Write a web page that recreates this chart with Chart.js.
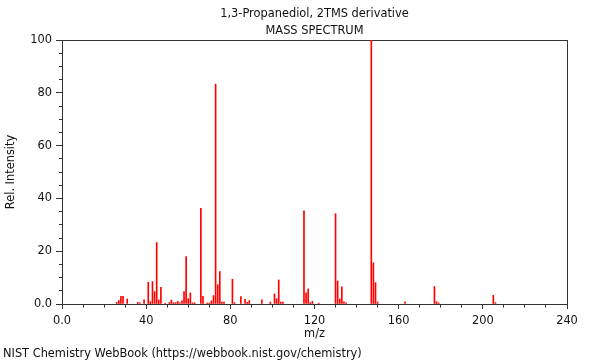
<!DOCTYPE html>
<html><head><meta charset="utf-8">
<script src="https://cdn.jsdelivr.net/npm/chart.js@4/dist/chart.umd.min.js"></script>
<style>html,body{margin:0;padding:0;background:#fff}canvas{display:block}</style>
</head><body>
<canvas id="c" width="600" height="360"></canvas>
<script>
const chartTitle = ['1,3-Propanediol, 2TMS derivative', 'MASS SPECTRUM'];
const footerText = 'NIST Chemistry WebBook (https://webbook.nist.gov/chemistry)';
const xAxisTitle = 'm/z';
const yAxisTitle = 'Rel. Intensity';

const mz = [26,27,28,29,31,36,37,39,41,42,43,44,45,46,47,49,51,52,53,54,55,56,57,58,59,60,61,62,63,
  66,67,69,70,71,72,73,74,75,76,77,81,82,85,87,88,89,95,99,101,102,103,104,105,
  115,116,117,118,119,122,130,131,132,133,134,135,147,148,149,150,163,177,178,179,205,206];
const intensity = [0.6,1.3,2.9,2.9,1.9,0.6,0.4,1.6,8.2,0.9,8.5,4.7,23.3,1.5,6.3,0.3,0.6,1.5,0.5,0.5,1.0,0.4,1.2,4.7,18.0,2.0,4.2,0.4,0.5,
  36.2,2.9,0.4,0.4,1.2,3.2,83.3,7.3,12.3,0.7,0.7,9.4,0.5,2.8,1.8,0.6,1.3,1.6,0.7,3.8,2.0,9.1,0.7,0.7,
  35.3,4.2,5.7,0.5,1.0,0.3,34.2,8.7,1.9,6.5,0.8,0.4,100,15.6,8.1,0.8,0.8,6.6,0.9,0.4,3.3,0.5];

const xTickValues = [0,40,80,120,160,200,240];
const xTickLabels = ['0.0','40','80','120','160','200','240'];
const yTickValues = [0,20,40,60,80,100];
const yTickLabels = ['0.0','20','40','60','80','100'];

const FONT = 'DejaVu Sans';
const FS = 11.4;
const AXIS = '#333';
const TEXT = '#111';

function labelFor(values, labels) {
  return v => { const i = values.indexOf(v); return i >= 0 ? labels[i] : ''; };
}

new Chart(document.getElementById('c'), {
  type: 'bar',
  data: {
    datasets: [{
      data: mz.map((m, i) => ({x: m, y: intensity[i]})),
      backgroundColor: '#ff0000',
      borderWidth: 0,
      barThickness: 1,
      xAxisID: 'x', yAxisID: 'y'
    }]
  },
  options: {
    responsive: false, animation: false, devicePixelRatio: 1,
    layout: {padding: {left: 3, right: 33, top: 0, bottom: 0}},
    plugins: {
      legend: {display: false},
      tooltip: {enabled: false},
      title: {display: true, text: chartTitle, fullSize: false, color: TEXT,
        font: {family: FONT, size: FS, weight: 'normal', lineHeight: 17 / FS},
        padding: {top: 5.3, bottom: 0.7}},
      subtitle: {display: true, text: footerText, position: 'bottom', align: 'start', fullSize: true, color: TEXT,
        font: {family: FONT, size: FS, weight: 'normal', lineHeight: 1.1},
        padding: {top: 3, bottom: 0}}
    },
    scales: {
      x: {
        type: 'linear', position: 'bottom', min: 0, max: 240, offset: false,
        ticks: {stepSize: 10, autoSkip: false, maxRotation: 0, minRotation: 0, padding: 5, color: TEXT,
          font: {family: FONT, size: FS}, callback: labelFor(xTickValues, xTickLabels)},
        grid: {display: true, drawOnChartArea: false, drawTicks: true, tickLength: 5, tickColor: AXIS, offset: false,
          tickBorderDash: c => (c.tick && xTickValues.includes(c.tick.value)) ? [] : [2.5, 10]},
        border: {display: true, color: AXIS, width: 1},
        title: {display: true, text: xAxisTitle, color: TEXT, font: {family: FONT, size: FS, lineHeight: 1.2}, padding: {top: 0, bottom: 3.1}},
        afterFit: s => { s.height = 40.46; }
      },
      y: {
        type: 'linear', position: 'left', min: 0, max: 100,
        ticks: {stepSize: 5, autoSkip: false, padding: 4, color: TEXT,
          font: {family: FONT, size: FS}, callback: labelFor(yTickValues, yTickLabels)},
        grid: {display: true, drawOnChartArea: false, drawTicks: true, tickLength: 6, tickColor: AXIS,
          tickBorderDash: c => (c.tick && yTickValues.includes(c.tick.value)) ? [] : [3, 3],
          tickBorderDashOffset: c => (c.tick && yTickValues.includes(c.tick.value)) ? 0 : 3},
        border: {display: true, color: AXIS, width: 1},
        title: {display: true, text: yAxisTitle, color: TEXT, font: {family: FONT, size: FS, lineHeight: 1.2}, padding: {top: 1.6, bottom: 0}},
        afterFit: s => { s.width = 59; }
      },
      xTop: {
        type: 'linear', position: 'top', min: 0, max: 240,
        ticks: {display: false}, grid: {display: false, drawTicks: false},
        border: {display: true, color: AXIS, width: 1}
      },
      yRight: {
        type: 'linear', position: 'right', min: 0, max: 100,
        ticks: {display: false}, grid: {display: false, drawTicks: false},
        border: {display: true, color: AXIS, width: 1}
      }
    }
  }
});
</script>
</body></html>
